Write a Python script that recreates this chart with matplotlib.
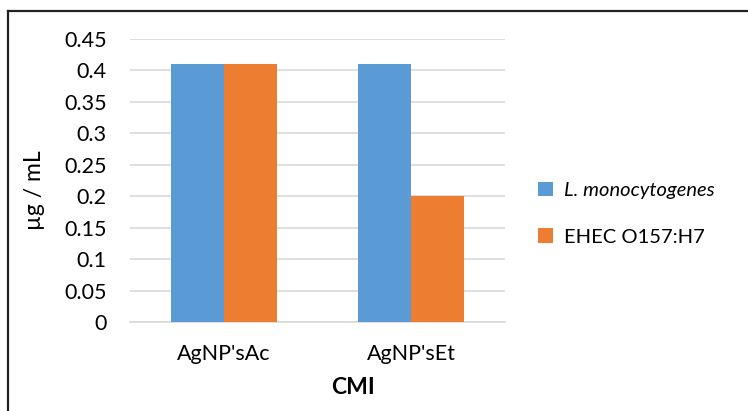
import matplotlib
matplotlib.use("Agg")
import matplotlib.pyplot as plt
from matplotlib.lines import Line2D
import numpy as np

categories = ["AgNP'sAc", "AgNP'sEt"]
series_names = ["L. monocytogenes", "EHEC O157:H7"]
listeria = [0.41, 0.41]
ehec = [0.41, 0.20]
yticks = [0, 0.05, 0.1, 0.15, 0.2, 0.25, 0.3, 0.35, 0.4, 0.45]
ytick_labels = ["0", "0.05", "0.1", "0.15", "0.2", "0.25", "0.3", "0.35", "0.4", "0.45"]

plt.rcParams['font.family'] = ['Lato', 'DejaVu Sans']

fig = plt.figure(figsize=(7.48, 4.11), dpi=100)
ax = fig.add_axes([0.174, 0.2165, 0.501, 0.6885])

x = np.arange(len(categories))
w = 0.283
b1 = ax.bar(x - w / 2, listeria, w, color="#5B9BD5", label=series_names[0], zorder=3)
b2 = ax.bar(x + w / 2, ehec, w, color="#ED7D31", label=series_names[1], zorder=3)

ax.set_xlim(-0.5, 1.5)
ax.set_ylim(0, 0.45)
ax.set_yticks(yticks)
ax.set_yticklabels(ytick_labels, fontsize=15.5)
ax.set_xticks(x)
ax.set_xticklabels(categories, fontsize=15.5)
ax.tick_params(axis='y', length=0, pad=17)
ax.tick_params(axis='x', length=0, pad=16)
ax.yaxis.grid(True, color="#d9d9d9", linewidth=1.2, zorder=0)
for s in ["top", "right", "left"]:
    ax.spines[s].set_visible(False)
ax.spines["bottom"].set_color("#d9d9d9")
ax.spines["bottom"].set_linewidth(1.2)

ax.set_ylabel("µg / mL", fontsize=16.5)
ax.yaxis.set_label_coords(-0.227, 0.466)
ax.set_xlabel("CMI", fontsize=16.5, fontweight="bold")
ax.xaxis.set_label_coords(0.595, -0.233)
ax.xaxis.label.set_verticalalignment("center")

leg = fig.legend(handles=[b1, b2], loc="center left", bbox_to_anchor=(0.695, 0.48),
                 frameon=False, fontsize=14.5, handlelength=0.75, handleheight=0.75,
                 handletextpad=0.55, labelspacing=1.45)
leg.get_texts()[0].set_fontstyle("italic")

# chart frame edges
fig.add_artist(Line2D([0.0107, 0.0107], [0.0, 0.974], transform=fig.transFigure,
                      color="#222222", linewidth=1.6))
fig.add_artist(Line2D([0.0107, 1.0], [0.974, 0.974], transform=fig.transFigure,
                      color="#222222", linewidth=1.6))

fig.savefig("out.png", dpi=100)
